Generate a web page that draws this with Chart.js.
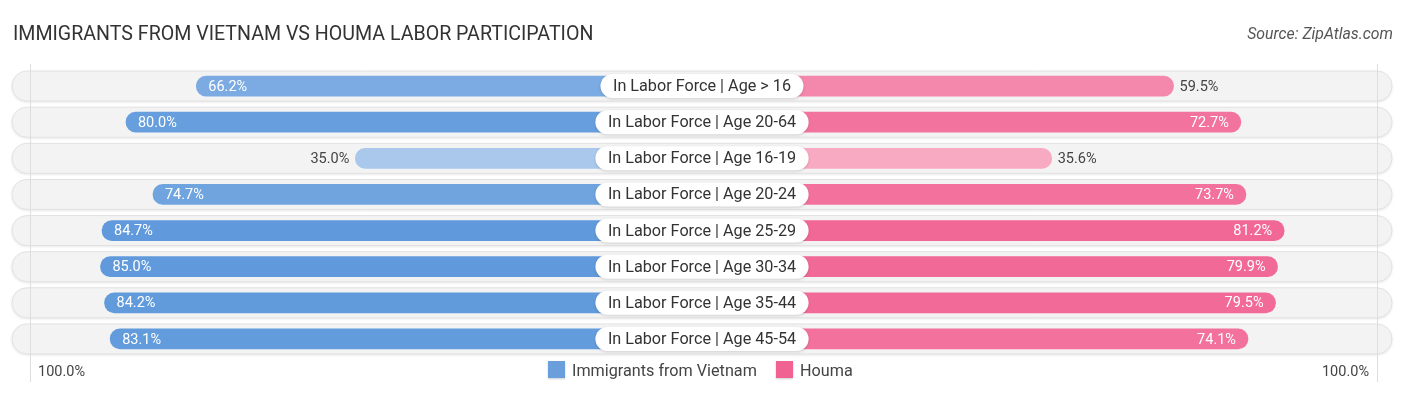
<!DOCTYPE html>
<html>
<head>
<meta charset="utf-8">
<script src="https://cdn.jsdelivr.net/npm/chart.js@4.4.1/dist/chart.umd.min.js"></script>
<style>
  html, body { margin: 0; padding: 0; background: #ffffff; }
  #wrap { width: 1406px; height: 395px; position: relative; }
</style>
</head>
<body>
<div id="wrap"><canvas id="chart"></canvas></div>
<script>
const categories = [
    'In Labor Force | Age > 16',
    'In Labor Force | Age 20-64',
    'In Labor Force | Age 16-19',
    'In Labor Force | Age 20-24',
    'In Labor Force | Age 25-29',
    'In Labor Force | Age 30-34',
    'In Labor Force | Age 35-44',
    'In Labor Force | Age 45-54'
];
const vietnamValues = [66.2, 80.0, 35.0, 74.7, 84.7, 85.0, 84.2, 83.1];
const houmaValues = [59.5, 72.7, 35.6, 73.7, 81.2, 79.9, 79.5, 74.1];
const seriesNames = ['Immigrants from Vietnam', 'Houma'];
const axisLabels = ['100.0%', '100.0%'];

// label box covers the middle, bars start behind it
const OFFSET = 33;
const FONT = 'Roboto, "Open Sans", sans-serif';

function mix(light, full, v) {
    let t = Math.max(0, Math.min(1, (v - 30) / 55));
    let c = light.map((l, i) => Math.round(l + (full[i] - l) * t));
    return 'rgb(' + c.join(',') + ')';
}
const blueColors = vietnamValues.map(v => mix([176, 205, 238], [96, 154, 220], v));
const pinkColors = houmaValues.map(v => mix([249, 178, 201], [240, 98, 146], v));

function pill(ctx, x, y, w, h) {
    let r = h / 2;
    ctx.beginPath();
    ctx.moveTo(x + r, y);
    ctx.lineTo(x + w - r, y);
    ctx.arc(x + w - r, y + r, r, -Math.PI / 2, Math.PI / 2);
    ctx.lineTo(x + r, y + h);
    ctx.arc(x + r, y + r, r, Math.PI / 2, Math.PI * 1.5);
    ctx.closePath();
}

const decorPlugin = {
    id: 'decor',
    beforeDatasetsDraw(chart) {
        const ctx = chart.ctx;
        const yScale = chart.scales.y;
        const area = chart.chartArea;
        ctx.save();
        categories.forEach((c, i) => {
            let y = yScale.getPixelForValue(i);
            ctx.shadowColor = 'rgba(0,0,0,0.12)';
            ctx.shadowBlur = 3;
            ctx.shadowOffsetY = 1;
            pill(ctx, 12, y - 15, 1380, 30);
            ctx.fillStyle = '#f3f3f3';
            ctx.fill();
            ctx.shadowColor = 'transparent';
            ctx.strokeStyle = '#e2e2e2';
            ctx.lineWidth = 1;
            ctx.stroke();
        });
        // faint lines near 100%
        ctx.strokeStyle = '#dedede';
        ctx.lineWidth = 1;
        [area.left + 6, area.right - 3].forEach(x => {
            x = Math.round(x) + 0.5;
            ctx.beginPath();
            ctx.moveTo(x, 64);
            ctx.lineTo(x, 382);
            ctx.stroke();
        });
        ctx.restore();
    },
    afterDatasetsDraw(chart) {
        const ctx = chart.ctx;
        const yScale = chart.scales.y;
        const xScale = chart.scales.x;
        const cx = xScale.getPixelForValue(0);
        ctx.save();
        ctx.textBaseline = 'middle';

        categories.forEach((c, i) => {
            let y = yScale.getPixelForValue(i);

            // center label
            ctx.font = '16.2px ' + FONT;
            let w = ctx.measureText(c).width + 25;
            ctx.shadowColor = 'rgba(0,0,0,0.15)';
            ctx.shadowBlur = 3;
            ctx.shadowOffsetY = 1;
            pill(ctx, cx - w / 2, y - 12, w, 24);
            ctx.fillStyle = '#ffffff';
            ctx.fill();
            ctx.shadowColor = 'transparent';
            ctx.fillStyle = '#333333';
            ctx.textAlign = 'center';
            ctx.fillText(c, cx, y + 1);

            // values
            ctx.font = '14.5px ' + FONT;
            let lv = vietnamValues[i];
            let lx = xScale.getPixelForValue(-(lv + OFFSET));
            if (lv > 62) {
                ctx.fillStyle = '#ffffff';
                ctx.textAlign = 'left';
                ctx.fillText(lv.toFixed(1) + '%', lx + 12, y + 1);
            } else {
                ctx.fillStyle = '#444444';
                ctx.textAlign = 'right';
                ctx.fillText(lv.toFixed(1) + '%', lx - 6, y + 1);
            }
            let rv = houmaValues[i];
            let rx = xScale.getPixelForValue(rv + OFFSET);
            if (rv > 62) {
                ctx.fillStyle = '#ffffff';
                ctx.textAlign = 'right';
                ctx.fillText(rv.toFixed(1) + '%', rx - 12, y + 1);
            } else {
                ctx.fillStyle = '#444444';
                ctx.textAlign = 'left';
                ctx.fillText(rv.toFixed(1) + '%', rx + 6, y + 1);
            }
        });

        // title and source
        ctx.textBaseline = 'alphabetic';
        ctx.textAlign = 'left';
        ctx.fillStyle = '#333333';
        ctx.font = '19.6px ' + FONT;
        ctx.fillText('IMMIGRANTS FROM VIETNAM VS HOUMA LABOR PARTICIPATION', 13, 40);
        ctx.textAlign = 'right';
        ctx.fillStyle = '#555555';
        ctx.font = 'italic 15.8px ' + FONT;
        ctx.fillText('Source: ZipAtlas.com', 1393, 39);

        // bottom axis labels
        ctx.font = '14.5px ' + FONT;
        ctx.fillStyle = '#444444';
        ctx.textAlign = 'left';
        ctx.fillText(axisLabels[0], 38, 376);
        ctx.textAlign = 'right';
        ctx.fillText(axisLabels[1], 1369, 376);

        // legend
        ctx.font = '16.2px ' + FONT;
        ctx.textAlign = 'left';
        ctx.shadowColor = 'rgba(0,0,0,0.2)';
        ctx.shadowBlur = 2;
        ctx.shadowOffsetY = 1;
        ctx.fillStyle = '#6a9fdc';
        ctx.fillRect(548, 361, 17, 17);
        ctx.fillStyle = '#f06292';
        ctx.fillRect(776, 361, 17, 17);
        ctx.shadowColor = 'transparent';
        ctx.fillStyle = '#444444';
        ctx.fillText(seriesNames[0], 572, 376);
        ctx.fillText(seriesNames[1], 800, 376);
        ctx.restore();
    }
};

new Chart(document.getElementById('chart'), {
    type: 'bar',
    data: {
        labels: categories,
        datasets: [
            {
                label: seriesNames[0],
                data: vietnamValues.map(v => [-(v + OFFSET), 0]),
                backgroundColor: blueColors,
                borderRadius: 10,
                borderSkipped: false,
                barThickness: 20,
                grouped: false
            },
            {
                label: seriesNames[1],
                data: houmaValues.map(v => [0, v + OFFSET]),
                backgroundColor: pinkColors,
                borderRadius: 10,
                borderSkipped: false,
                barThickness: 20,
                grouped: false
            }
        ]
    },
    options: {
        indexAxis: 'y',
        responsive: true,
        maintainAspectRatio: false,
        animation: false,
        layout: { padding: { top: 68, bottom: 38, left: 24, right: 26 } },
        plugins: {
            legend: { display: false },
            tooltip: { enabled: false }
        },
        scales: {
            x: { min: -100 - OFFSET, max: 100 + OFFSET, display: false },
            y: { display: false }
        }
    },
    plugins: [decorPlugin]
});
</script>
</body>
</html>
